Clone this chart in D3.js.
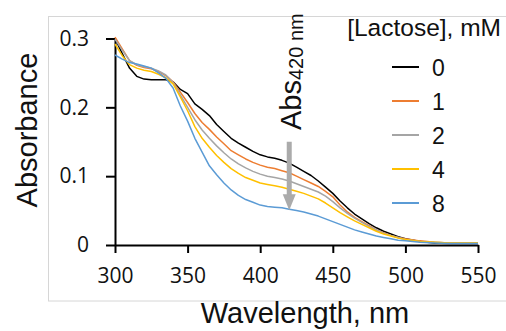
<!DOCTYPE html>
<html>
<head>
<meta charset="utf-8">
<script src="https://cdn.jsdelivr.net/npm/d3@7"></script>
<style>
  html, body { margin: 0; padding: 0; background: #fff; }
  svg { display: block; }
</style>
</head>
<body>
<svg id="chart" width="506" height="331"></svg>
<script>
// wavelengths (nm) where the spectra were read
const wavelengths = [300, 305, 310, 315, 320, 325, 330, 335, 340, 345, 350, 355, 360, 365, 370, 375, 380, 385, 390, 395,
  400, 405, 410, 415, 420, 425, 430, 435, 440, 445, 450, 455, 460, 465, 470, 475, 480, 485, 490, 495,
  500, 510, 520, 530, 540, 550];

// absorbance for each lactose concentration
const abs0 = [0.300, 0.278, 0.257, 0.245, 0.241, 0.240, 0.240, 0.240, 0.237, 0.226, 0.220, 0.205, 0.197, 0.188, 0.175, 0.165, 0.155, 0.148, 0.142, 0.136,
  0.131, 0.128, 0.126, 0.123, 0.119, 0.113, 0.107, 0.101, 0.093, 0.084, 0.075, 0.064, 0.054, 0.045, 0.038, 0.031, 0.025, 0.020, 0.016, 0.012,
  0.009, 0.005, 0.003, 0.002, 0.002, 0.002];
const abs1 = [0.302, 0.285, 0.268, 0.261, 0.258, 0.256, 0.252, 0.246, 0.237, 0.222, 0.207, 0.191, 0.178, 0.168, 0.157, 0.147, 0.137, 0.131, 0.125, 0.120,
  0.116, 0.113, 0.111, 0.108, 0.105, 0.100, 0.095, 0.090, 0.085, 0.078, 0.070, 0.058, 0.048, 0.040, 0.034, 0.028, 0.022, 0.018, 0.014, 0.011,
  0.009, 0.006, 0.004, 0.003, 0.003, 0.003];
const abs2 = [0.299, 0.283, 0.268, 0.262, 0.259, 0.257, 0.253, 0.247, 0.236, 0.218, 0.200, 0.182, 0.167, 0.155, 0.144, 0.134, 0.125, 0.118, 0.112, 0.107,
  0.103, 0.100, 0.098, 0.096, 0.093, 0.089, 0.085, 0.081, 0.077, 0.071, 0.063, 0.054, 0.046, 0.039, 0.033, 0.027, 0.022, 0.017, 0.014, 0.011,
  0.008, 0.005, 0.004, 0.003, 0.003, 0.003];
const abs4 = [0.292, 0.275, 0.262, 0.257, 0.254, 0.252, 0.248, 0.243, 0.234, 0.215, 0.195, 0.172, 0.155, 0.142, 0.130, 0.120, 0.111, 0.104, 0.098, 0.094,
  0.090, 0.088, 0.086, 0.084, 0.081, 0.078, 0.075, 0.071, 0.067, 0.061, 0.054, 0.047, 0.041, 0.035, 0.030, 0.025, 0.020, 0.016, 0.013, 0.010,
  0.008, 0.005, 0.004, 0.003, 0.003, 0.003];
const abs8 = [0.276, 0.270, 0.265, 0.263, 0.260, 0.257, 0.250, 0.242, 0.228, 0.202, 0.180, 0.155, 0.135, 0.115, 0.102, 0.090, 0.080, 0.072, 0.066, 0.062,
  0.058, 0.056, 0.055, 0.054, 0.052, 0.050, 0.048, 0.045, 0.042, 0.038, 0.034, 0.030, 0.026, 0.022, 0.019, 0.016, 0.013, 0.011, 0.009, 0.007,
  0.006, 0.004, 0.003, 0.002, 0.002, 0.002];

const seriesNames = ["0", "1", "2", "4", "8"];
const seriesValues = [abs0, abs1, abs2, abs4, abs8];
const seriesColors = ["#000000", "#ED7D31", "#A5A5A5", "#FFC000", "#5B9BD5"];

const xTicks = [300, 350, 400, 450, 500, 550];
const yTicks = [0, 0.1, 0.2, 0.3];

const arrowAt = 420;        // nm
const arrowFrom = 0.150;    // absorbance where the arrow starts

const svg = d3.select("#chart");

const x = d3.scaleLinear().domain([300, 550]).range([115, 478]);
const y = d3.scaleLinear().domain([0, 0.3]).range([245, 38.5]);

// light frame around the figure
svg.append("rect")
  .attr("x", 48.5).attr("y", 16.5)
  .attr("width", 480).attr("height", 284.5)
  .attr("fill", "none")
  .attr("stroke", "#d6d6d6")
  .attr("stroke-width", 1);

const tickFont = "'Open Sans', sans-serif";
const textFont = "'Liberation Sans', Arial, sans-serif";

// axes
const xAxis = svg.append("g")
  .attr("transform", `translate(0,${y(0)})`)
  .call(d3.axisBottom(x).tickValues(xTicks).tickSize(8).tickSizeOuter(0).tickPadding(15));
const yAxis = svg.append("g")
  .attr("transform", `translate(${x(300)},0)`)
  .call(d3.axisLeft(y).tickValues(yTicks).tickSize(9).tickSizeOuter(0).tickPadding(17)
    .tickFormat(d => d === 0 ? "0" : d3.format(".1f")(d)));

[xAxis, yAxis].forEach(g => {
  g.select(".domain").attr("stroke", "#000").attr("stroke-width", 2);
  g.selectAll(".tick line").attr("stroke", "#000").attr("stroke-width", 2);
  g.selectAll(".tick text")
    .attr("fill", "#111")
    .style("font-family", tickFont)
    .style("font-size", "21px");
});

// spectra
const line = d3.line()
  .x((d, i) => x(wavelengths[i]))
  .y(d => y(d));

svg.append("g")
  .selectAll("path")
  .data(seriesValues)
  .join("path")
  .attr("d", d => line(d))
  .attr("fill", "none")
  .attr("stroke", (d, i) => seriesColors[i])
  .attr("stroke-width", 1.5)
  .attr("stroke-linejoin", "round");

// axis titles
svg.append("text")
  .attr("transform", "translate(37,130) rotate(-90)")
  .attr("text-anchor", "middle")
  .style("font-family", textFont)
  .style("font-size", "29px")
  .attr("fill", "#111")
  .text("Absorbance");

svg.append("text")
  .attr("x", 305).attr("y", 323)
  .attr("text-anchor", "middle")
  .style("font-family", textFont)
  .style("font-size", "29px")
  .attr("fill", "#111")
  .text("Wavelength, nm");

// Abs420 annotation with arrow
const ax = x(arrowAt);
const tipY = y(abs8[wavelengths.indexOf(arrowAt)]);
const ann = svg.append("text")
  .attr("transform", `translate(${ax + 12},130) rotate(-90)`)
  .style("font-family", textFont)
  .attr("fill", "#111");
ann.append("tspan").style("font-size", "29px").text("Abs");
ann.append("tspan").style("font-size", "20px").attr("dy", 2).text("420 nm");

svg.append("line")
  .attr("x1", ax).attr("x2", ax)
  .attr("y1", y(arrowFrom)).attr("y2", tipY - 14)
  .attr("stroke", "#ababab")
  .attr("stroke-width", 5);
svg.append("path")
  .attr("d", `M${ax - 6.5},${tipY - 15}L${ax + 6.5},${tipY - 15}L${ax},${tipY + 1}Z`)
  .attr("fill", "#ababab");

// legend
svg.append("text")
  .attr("x", 501).attr("y", 36)
  .attr("text-anchor", "end")
  .style("font-family", textFont)
  .style("font-size", "24.5px")
  .attr("fill", "#111")
  .text("[Lactose], mM");

const legend = svg.append("g")
  .selectAll("g")
  .data(seriesNames)
  .join("g")
  .attr("transform", (d, i) => `translate(392,${67 + i * 34})`);
legend.append("line")
  .attr("x1", 0).attr("x2", 27)
  .attr("stroke", (d, i) => seriesColors[i])
  .attr("stroke-width", 2);
legend.append("text")
  .attr("x", 40).attr("y", 8.5)
  .style("font-family", textFont)
  .style("font-size", "23px")
  .attr("fill", "#111")
  .text(d => d);
</script>
</body>
</html>
